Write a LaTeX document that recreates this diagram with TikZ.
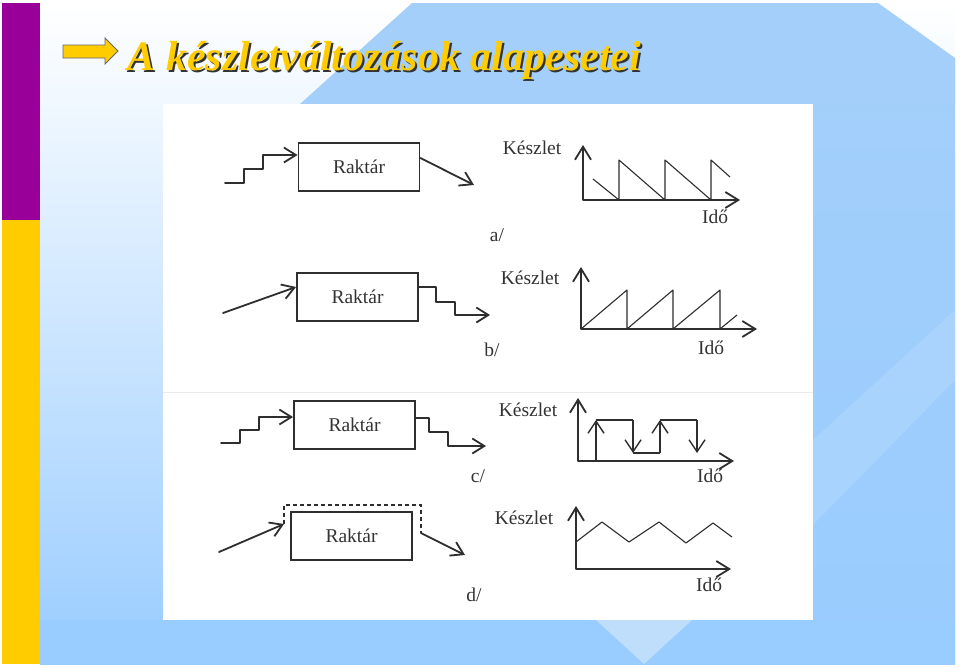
\documentclass[tikz,border=0pt]{standalone}
\usepackage{fontspec}
\setmainfont{Liberation Serif}
\usetikzlibrary{arrows.meta}
\definecolor{ink}{HTML}{2E2E2E}
\definecolor{txt}{HTML}{333333}
\definecolor{purp}{HTML}{990099}
\definecolor{gold}{HTML}{FFCC00}
\definecolor{skyA}{HTML}{A3CFFA}
\definecolor{skyB}{HTML}{99CCFF}
\definecolor{skyL}{HTML}{BFDEFC}
\definecolor{skyM}{HTML}{BCDCFC}
\newcommand\ttlfont{\fontsize{42}{50}\selectfont\bfseries\itshape}
\newcommand\lblfont{\fontsize{19.5}{22}\selectfont}
\newcommand\shadowtext[1]{\makebox[0pt][l]{\hspace{2pt}\raisebox{-2pt}{\color{black!80}#1}}{\color{gold}#1}}
\tikzset{
  ln/.style={draw=ink, line width=1.8pt, line join=round, line cap=round},
  arr/.style={ln, -{Straight Barb[length=12pt,width=15pt]}},
  axisline/.style={ln, {Straight Barb[length=13pt,width=16pt]}-{Straight Barb[length=13pt,width=16pt]}},
  curve/.style={draw=ink, line width=1.1pt, line join=round},
  warr/.style={draw=ink, line width=1.4pt, line join=round, -{Straight Barb[length=12pt,width=16pt]}},
  dashbox/.style={draw=ink, line width=1.1pt, dash pattern=on 4pt off 3pt},
  box/.style={draw=ink, line width=1.9pt, minimum width=121pt, minimum height=48pt, inner sep=0pt, font=\lblfont, text=txt},
  lbl/.style={font=\lblfont, text=txt, inner sep=1pt}
}
\begin{document}
\begin{tikzpicture}[x=1pt,y=-1pt]
\useasboundingbox (0,0) rectangle (960,667);
% background
\fill[white] (0,0) rectangle (960,667);
\shade[top color=white, bottom color=skyB] (40,3) rectangle (955,664);
\shade[top color=skyA, middle color=skyM, bottom color=skyB] (813,58) rectangle (955,664);
\fill[white, opacity=0.12] (813,525) -- (955,380) -- (955,310) -- (813,440) -- cycle;
\fill[skyA] (300,104) -- (412,3) -- (878,3) -- (955,58) -- (955,104) -- cycle;
\fill[skyB] (40,620) rectangle (955,664);
\fill[skyL] (596,620) -- (692,620) -- (644,664) -- cycle;
\fill[white] (163,104) rectangle (813,620);
\draw[black!8, line width=0.8pt] (163,392) -- (813,392);
\fill[purp] (2,3) rectangle (40,220);
\fill[gold] (2,220) rectangle (40,664);
% title
\filldraw[fill=gold, draw=black!60, line width=0.8pt] (63,45) -- (105,45) -- (105,38) -- (118,51) -- (105,64) -- (105,58) -- (63,58) -- cycle;
\node[anchor=base west, inner sep=0pt, font=\ttlfont] (title) at (127.5,70) {\shadowtext{A készletváltozások alapesetei}};
% ---- row a
\node[box] (ra) at (359,167) {Raktár};
\coordinate (ina) at (225,183);
\draw[arr] (ina) -- (244,183) -- (244,169) -- (263,169) -- (263,155) -- ([yshift=12pt]ra.west);
\coordinate (outa) at (474,185);
\draw[arr] ([yshift=9pt]ra.east) -- (outa);
\coordinate (ya) at (583,145);
\coordinate (oa) at (583,200);
\coordinate (xa) at (740,200);
\draw[axisline] (ya) -- (oa) -- (xa);
\node[lbl] (ka) at (532,148) {Készlet};
\node[lbl] (ia) at (715,217) {Idő};
\node[lbl] (la) at (497,235) {a/};
\draw[curve] (593,179) -- (619,200) -- (619,160) -- (665,200) -- (665,160) -- (711,200) -- (711,160) -- (730,177);
% ---- row b
\node[box] (rb) at (357.5,297) {Raktár};
\coordinate (inb) at (223,313);
\draw[arr] (inb) -- ([yshift=10pt]rb.west);
\coordinate (outb) at (490,315);
\draw[arr] ([yshift=10pt]rb.east) -- (436,287) -- (436,302) -- (455,302) -- (455,315) -- (outb);
\coordinate (yb) at (581,267);
\coordinate (ob) at (581,329);
\coordinate (xb) at (757,329);
\draw[axisline] (yb) -- (ob) -- (xb);
\node[lbl] (kb) at (530,278) {Készlet};
\node[lbl] (ib) at (711,348) {Idő};
\node[lbl] (lb) at (492,350) {b/};
\draw[curve] (ob) -- (627,290) -- (627,329) -- (673,290) -- (673,329) -- (720,290) -- (720,329) -- (737,315);
% ---- row c
\node[box] (rc) at (354.5,425) {Raktár};
\coordinate (inc) at (221,443);
\draw[arr] (inc) -- (240,443) -- (240,430) -- (259,430) -- (259,417) -- ([yshift=8pt]rc.west);
\coordinate (outc) at (486,446);
\draw[arr] ([yshift=7pt]rc.east) -- (429,418) -- (429,432) -- (448,432) -- (448,446) -- (outc);
\coordinate (yc) at (578,398);
\coordinate (oc) at (578,461);
\coordinate (xc) at (734,461);
\draw[axisline] (yc) -- (oc) -- (xc);
\node[lbl] (kc) at (528,410) {Készlet};
\node[lbl] (ic) at (710,476) {Idő};
\node[lbl] (lc) at (478,476) {c/};
\draw[warr] (596,461) -- (596,420);
\draw[curve] (596,420) -- (633,420);
\draw[warr] (633,420) -- (633,453);
\draw[curve] (633,453) -- (660,453);
\draw[warr] (660,453) -- (660,420);
\draw[curve] (660,420) -- (697,420);
\draw[warr] (697,420) -- (697,453);
% ---- row d
\node[box] (rd) at (351.5,536) {Raktár};
\coordinate (dl) at (284,524);
\coordinate (dr) at (421,533);
\draw[dashbox] (dl) -- (284,505) -- (421,505) -- (dr);
\coordinate (ind) at (219,552);
\draw[arr] (ind) -- (dl);
\coordinate (outd) at (465,555);
\draw[arr] (dr) -- (outd);
\coordinate (yd) at (576,506);
\coordinate (od) at (576,569);
\coordinate (xd) at (731,569);
\draw[axisline] (yd) -- (od) -- (xd);
\node[lbl] (kd) at (524,518) {Készlet};
\node[lbl] (id) at (709,585) {Idő};
\node[lbl] (ld) at (474,595) {d/};
\draw[curve] (576,542) -- (602,522) -- (629,542) -- (659,522) -- (686,543) -- (713,523) -- (732,537);
\end{tikzpicture}
\end{document}
